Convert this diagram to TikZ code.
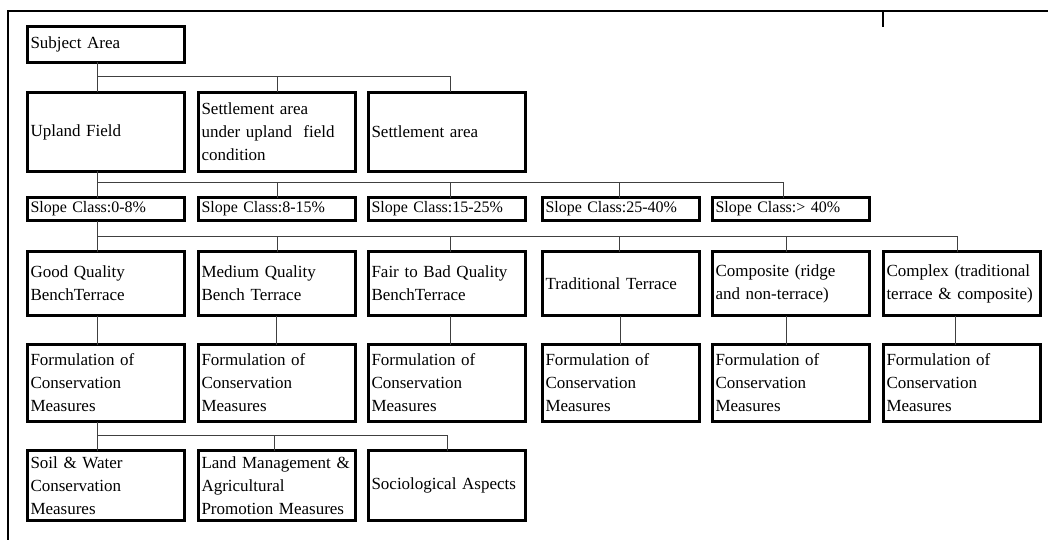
\documentclass[tikz,border=0pt]{standalone}
\usepackage{fontspec}
\setmainfont{Liberation Serif}
\newcommand{\mainsz}{\fontsize{17pt}{23pt}\selectfont}
\newcommand{\slopesz}{\fontsize{16pt}{19pt}\selectfont}
\begin{document}
\begin{tikzpicture}[x=1pt,y=-1pt,
  box/.style={draw, line width=2.6pt, anchor=north west, inner xsep=3pt, inner ysep=0pt,
    text width=151pt, minimum height=#1, align=left, outer sep=0pt, font=\mainsz},
  slopebox/.style={box=#1, font=\slopesz},
  conn/.style={draw, line width=1pt, black!75},
  frame/.style={draw, line width=2pt, black}]
\useasboundingbox (0,0) rectangle (1048,540);
% frame
\coordinate (ftr) at (1048,11.5);
\coordinate (ftl) at (7.5,11.5);
\coordinate (fbl) at (7.5,540);
\coordinate (tk1) at (883,11.5);
\coordinate (tk2) at (883,27);
\draw[frame] (ftr) -- (ftl) -- (fbl);
\draw[line width=2.5pt] (tk1) -- (tk2);
% row 1
\node[box=36pt] (subj) at (27.5,26.5) {Subject Area};
% row 2
\node[box=79pt] (up) at (27.5,92.5) {Upland Field};
\node[box=79pt] (sa1) at (198.5,92.5) {Settlement area\\under upland~ field\\condition};
\node[box=79pt] (sa2) at (368.5,92.5) {Settlement area};
% row 3
\node[slopebox=23pt] (s1) at (27.5,197.5) {Slope Class:0-8\%};
\node[slopebox=23pt] (s2) at (198.5,197.5) {Slope Class:8-15\%};
\node[slopebox=23pt] (s3) at (368.5,197.5) {Slope Class:15-25\%};
\node[slopebox=23pt] (s4) at (542.5,197.5) {Slope Class:25-40\%};
\node[slopebox=23pt] (s5) at (712.5,197.5) {Slope Class:> 40\%};
% row 4
\node[box=64pt] (t1) at (27.5,251.5) {Good Quality\\BenchTerrace};
\node[box=64pt] (t2) at (198.5,251.5) {Medium Quality\\Bench Terrace};
\node[box=64pt] (t3) at (368.5,251.5) {Fair to Bad Quality\\BenchTerrace};
\node[box=64pt] (t4) at (542.5,251.5) {Traditional Terrace};
\node[box=64pt] (t5) at (712.5,251.5) {Composite (ridge\\and non-terrace)};
\node[box=64pt] (t6) at (883.5,251.5) {Complex (traditional\\terrace \& composite)};
% row 5
\node[box=77pt] (f1) at (27.5,344.5) {Formulation of\\Conservation\\Measures};
\node[box=77pt] (f2) at (198.5,344.5) {Formulation of\\Conservation\\Measures};
\node[box=77pt] (f3) at (368.5,344.5) {Formulation of\\Conservation\\Measures};
\node[box=77pt] (f4) at (542.5,344.5) {Formulation of\\Conservation\\Measures};
\node[box=77pt] (f5) at (712.5,344.5) {Formulation of\\Conservation\\Measures};
\node[box=77pt] (f6) at (883.5,344.5) {Formulation of\\Conservation\\Measures};
% row 6
\node[box=70pt] (g1) at (27.5,450.5) {Soil \& Water\\Conservation\\Measures};
\node[box=70pt] (g2) at (198.5,450.5) {Land Management~\&\\Agricultural\\Promotion Measures};
\node[box=70pt] (g3) at (368.5,450.5) {Sociological Aspects};
% connectors row1 -> row2
\draw[conn] ([xshift=-9pt]subj.south) -- ([xshift=-9pt]up.north);
\draw[conn] ([xshift=-9pt,yshift=-14.5pt]subj.south) -| (sa1.north);
\draw[conn] ([xshift=-9pt,yshift=-14.5pt]subj.south) -| ([xshift=3pt]sa2.north);
% row2 -> row3
\draw[conn] ([xshift=-9pt]up.south) -- ([xshift=-9pt]s1.north);
\draw[conn] ([xshift=-9pt,yshift=-10.5pt]up.south) -| (s2.north);
\draw[conn] ([xshift=-9pt,yshift=-10.5pt]up.south) -| ([xshift=3pt]s3.north);
\draw[conn] ([xshift=-9pt,yshift=-10.5pt]up.south) -| ([xshift=-2pt]s4.north);
\draw[conn] ([xshift=-9pt,yshift=-10.5pt]up.south) -| ([xshift=-8pt]s5.north);
% row3 -> row4
\draw[conn] ([xshift=-9pt]s1.south) -- ([xshift=-9pt]t1.north);
\draw[conn] ([xshift=-9pt,yshift=-15.5pt]s1.south) -| (t2.north);
\draw[conn] ([xshift=-9pt,yshift=-15.5pt]s1.south) -| ([xshift=3pt]t3.north);
\draw[conn] ([xshift=-9pt,yshift=-15.5pt]s1.south) -| ([xshift=-2pt]t4.north);
\draw[conn] ([xshift=-9pt,yshift=-15.5pt]s1.south) -| ([xshift=-5pt]t5.north);
\draw[conn] ([xshift=-9pt,yshift=-15.5pt]s1.south) -| ([xshift=-5pt]t6.north);
% row4 -> row5
\draw[conn] ([xshift=-9pt]t1.south) -- ([xshift=-9pt]f1.north);
\draw[conn] ([xshift=-1pt]t2.south) -- ([xshift=-1pt]f2.north);
\draw[conn] ([xshift=3pt]t3.south) -- ([xshift=3pt]f3.north);
\draw[conn] ([xshift=-1pt]t4.south) -- ([xshift=-1pt]f4.north);
\draw[conn] ([xshift=-5pt]t5.south) -- ([xshift=-5pt]f5.north);
\draw[conn] ([xshift=-7pt]t6.south) -- ([xshift=-7pt]f6.north);
% row5 -> row6
\draw[conn] ([xshift=-9pt]f1.south) -- ([xshift=-9pt]g1.north);
\draw[conn] ([xshift=-9pt,yshift=-13.5pt]f1.south) -| ([xshift=-3pt]g2.north);
\draw[conn] ([xshift=-9pt,yshift=-13.5pt]f1.south) -| (g3.north);
\end{tikzpicture}
\end{document}
